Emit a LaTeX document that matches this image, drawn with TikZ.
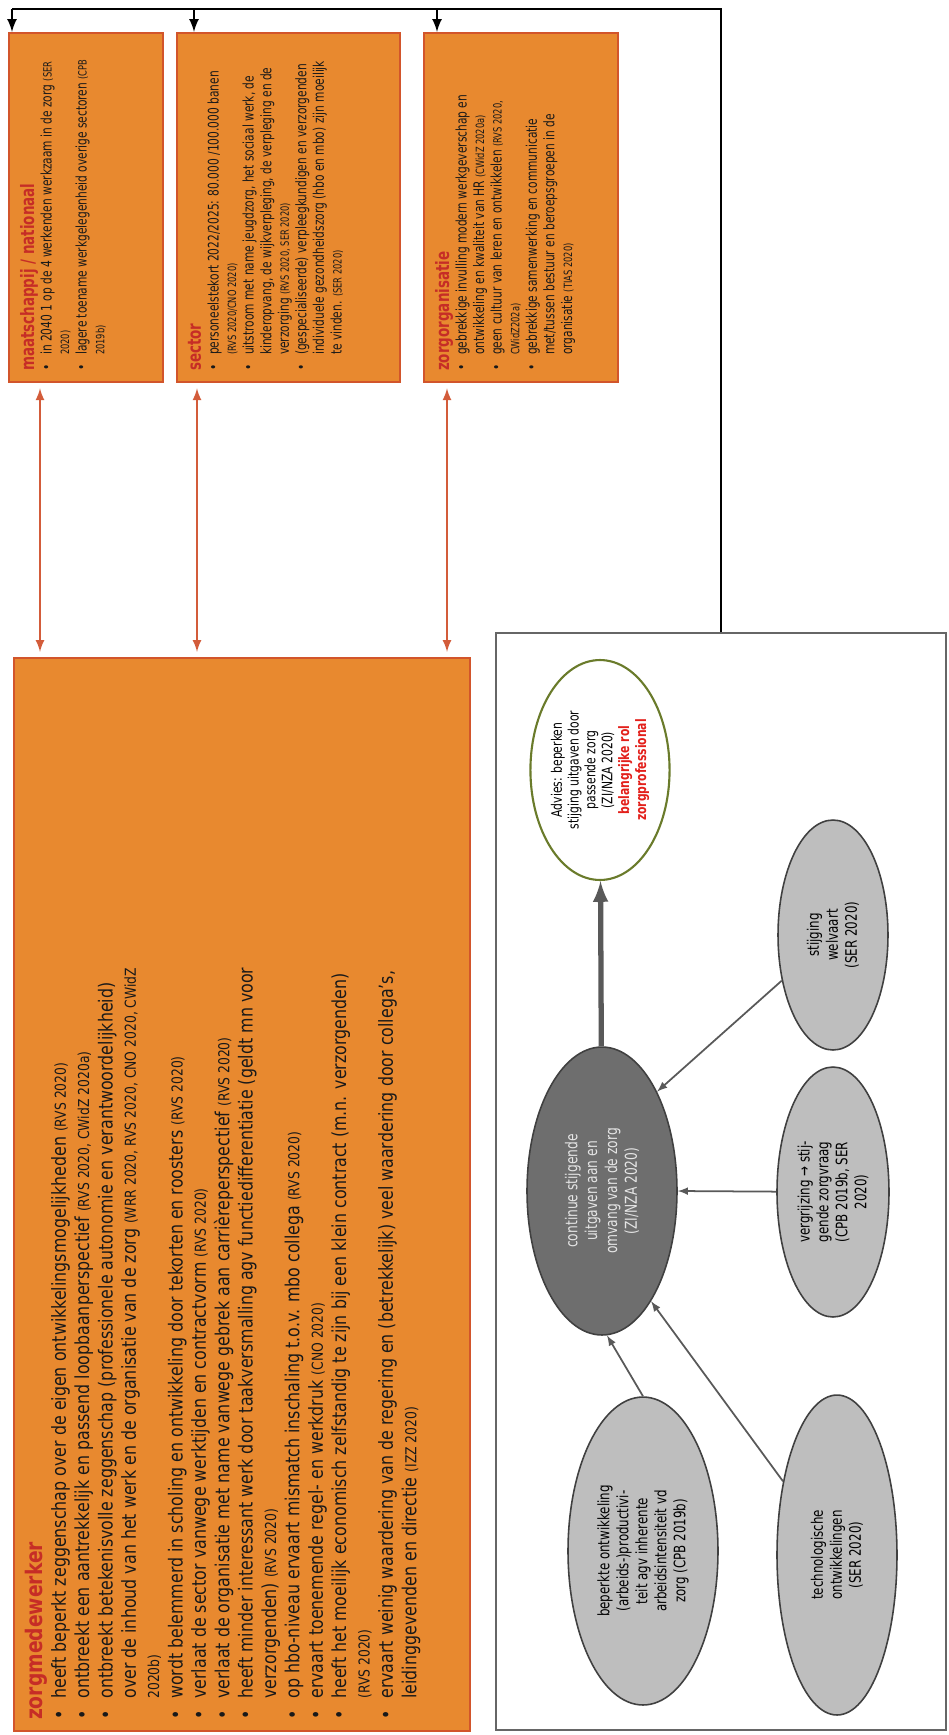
\documentclass[tikz,border=0pt]{standalone}
\usepackage{fontspec}
\setmainfont{DejaVu Sans}[FakeStretch=0.73]
\newfontfamily\smal{DejaVu Sans}[FakeStretch=0.75]
\newfontfamily\breed{DejaVu Sans}[FakeStretch=0.82]
\usetikzlibrary{arrows,shapes.geometric}
\definecolor{oranjevul}{HTML}{E8892F}
\definecolor{oranjerand}{HTML}{D2552B}
\definecolor{koprood}{HTML}{C62D26}
\definecolor{pijloranje}{HTML}{D35C3A}
\definecolor{donkergrijs}{HTML}{6E6E6E}
\definecolor{lichtgrijs}{HTML}{BEBEBE}
\definecolor{olijfgroen}{HTML}{6A7B2B}
\definecolor{tekstrood}{HTML}{E3201B}
\newcommand{\itm}{\makebox[1.1em][l]{\textbullet}}
\newcommand{\ind}{\hspace*{1.1em}}
\newcommand{\bron}[1]{\scalebox{0.78}{#1}}
\newcommand{\kop}[1]{{\fontsize{10.5}{12.5}\selectfont\bfseries\color{koprood}#1}}
\begin{document}
\begin{tikzpicture}[x=0.02cm,y=0.02cm]
	\tikzstyle{every node}+=[inner sep=0pt]
	\tikzstyle{vak}=[draw=oranjerand, line width=1.2pt, fill=oranjevul, rotate=90, inner sep=0.22cm, text=black!90]
	\tikzstyle{ovaal}=[ellipse, draw=black!75, line width=0.9pt, rotate=90, align=center, font=\smal\fontsize{9}{10.8}\selectfont]
	\tikzstyle{zwartpijl}=[draw=black, line width=1.5pt, -latex]
	\tikzstyle{oranjepijl}=[draw=pijloranje, line width=1.3pt, latex-latex, shorten <=3pt, shorten >=3pt]
	\tikzstyle{grijspijl}=[draw=black!65, line width=1pt, -latex]
	\useasboundingbox (0,0) rectangle (949,-1735);
	\node [vak] (m) at (86,-207.5) {\parbox[c][2.64cm][t]{6.54cm}{\fontsize{8.3}{10}\selectfont\raggedright
		\kop{maatschappij / nationaal}\\
		\itm in 2040 1 op de 4 werkenden werkzaam in de zorg \bron{(SER}\\
		\ind\bron{2020)}\\
		\itm lagere toename werkgelegenheid overige sectoren \bron{(CPB}\\
		\ind\bron{2019b)}}};
	\node [vak] (s) at (288.5,-207.5) {\parbox[c][4.02cm][t]{6.54cm}{\fontsize{8.3}{10}\selectfont\raggedright
		\kop{sector}\\
		\itm personeelstekort 2022/2025: 80.000 /100.000 banen\\
		\ind\bron{(RVS 2020/CNO 2020)}\\
		\itm uitstroom met name jeugdzorg, het sociaal werk, de\\
		\ind kinderopvang, de wijkverpleging, de verpleging en de\\
		\ind verzorging \bron{(RVS 2020, SER 2020)}\\
		\itm (gespecialiseerde) verpleegkundigen en verzorgenden\\
		\ind individuele gezondheidszorg (hbo en mbo) zijn moeilijk\\
		\ind te vinden. \bron{(SER 2020)}}};
	\node [vak] (o) at (521,-207.5) {\parbox[c][3.44cm][t]{6.54cm}{\fontsize{8.3}{10}\selectfont\raggedright
		\kop{zorgorganisatie}\\
		\itm gebrekkige invulling modern werkgeverschap en\\
		\ind ontwikkeling en kwaliteit van HR \bron{(CWidZ 2020a)}\\
		\itm geen cultuur van leren en ontwikkelen \bron{(RVS 2020,}\\
		\ind\bron{CWidZ202a)}\\
		\itm gebrekkige samenwerking en communicatie\\
		\ind met/tussen bestuur en beroepsgroepen in de\\
		\ind organisatie \bron{(TIAS 2020)}}};
	\node [vak] (z) at (242,-1194.5) {\parbox[c][8.68cm][t]{21.02cm}{\breed\fontsize{11}{13.3}\selectfont\raggedright
		{\fontsize{13}{15.5}\selectfont\bfseries\color{koprood}zorgmedewerker}\\
		\itm heeft beperkt zeggenschap over de eigen ontwikkelingsmogelijkheden \bron{(RVS 2020)}\\
		\itm ontbreekt een aantrekkelijk en passend loopbaanperspectief \bron{(RVS 2020, CWidZ 2020a)}\\
		\itm ontbreekt betekenisvolle zeggenschap (professionele autonomie en verantwoordelijkheid)\\
		\ind over de inhoud van het werk en de organisatie van de zorg \bron{(WRR 2020, RVS 2020, CNO 2020, CWidZ}\\
		\ind\bron{2020b)}\\
		\itm wordt belemmerd in scholing en ontwikkeling door tekorten en roosters \bron{(RVS 2020)}\\
		\itm verlaat de sector vanwege werktijden en contractvorm \bron{(RVS 2020)}\\
		\itm verlaat de organisatie met name vanwege gebrek aan carrièreperspectief \bron{(RVS 2020)}\\
		\itm heeft minder interessant werk door taakversmalling agv functiedifferentiatie (geldt mn voor\\
		\ind verzorgenden) \bron{(RVS 2020)}\\
		\itm op hbo-niveau ervaart mismatch inschaling t.o.v. mbo collega \bron{(RVS 2020)}\\
		\itm ervaart toenemende regel- en werkdruk \bron{(CNO 2020)}\\
		\itm heeft het moeilijk economisch zelfstandig te zijn bij een klein contract (m.n. verzorgenden)\\
		\ind\bron{(RVS 2020)}\\
		\itm ervaart weinig waardering van de regering en (betrekkelijk) veel waardering door collega’s,\\
		\ind leidinggevenden en directie \bron{(IZZ 2020)}}};
	\node [draw=black!60, line width=1.2pt, minimum width=9cm, minimum height=21.94cm] (k) at (721,-1181.5) {};
	\node [ovaal, draw=olijfgroen, line width=1.2pt, fill=white, minimum width=4.4cm, minimum height=2.68cm, font=\smal\fontsize{8.2}{9.6}\selectfont] (a) at (600,-770) {Advies: beperken\\stijging uitgaven door\\passende zorg\\(ZI/NZA 2020)\\\textbf{\color{tekstrood}belangrijke rol}\\\textbf{\color{tekstrood}zorgprofessional}};
	\node [ovaal, fill=donkergrijs, text=white!90!black, minimum width=5.76cm, minimum height=3cm, font=\smal\fontsize{9.3}{11.3}\selectfont] (c) at (602,-1191) {continue stijgende\\uitgaven aan en\\omvang van de zorg\\(ZI/NZA 2020)};
	\node [ovaal, fill=lichtgrijs, minimum width=4.6cm, minimum height=2.2cm] (w) at (833,-935) {stijging\\welvaart\\(SER 2020)};
	\node [ovaal, fill=lichtgrijs, minimum width=5cm, minimum height=2.24cm] (v) at (833,-1192) {vergrijzing → stij-\\gende zorgvraag\\(CPB 2019b, SER\\2020)};
	\node [ovaal, fill=lichtgrijs, minimum width=6.4cm, minimum height=2.4cm] (t) at (837,-1555) {technologische\\ontwikkelingen\\(SER 2020)};
	\node [ovaal, fill=lichtgrijs, minimum width=6.16cm, minimum height=3cm] (p) at (643,-1551) {beperkte ontwikkeling\\(arbeids-)productivi-\\teit agv inherente\\arbeidsintensiteit vd\\zorg (CPB 2019b)};
	\coordinate (h0) at (12,-9);
	\coordinate (h1) at (194,-9);
	\coordinate (h2) at (437,-9);
	\draw [draw=black, line width=1.5pt] (k.north) |- (h0);
	\draw [zwartpijl] (h0) -- (h0 |- m.east);
	\draw [zwartpijl] (h1) -- (h1 |- s.east);
	\draw [zwartpijl] (h2) -- (h2 |- o.east);
	\coordinate (r0) at (40,0);
	\coordinate (r1) at (197,0);
	\coordinate (r2) at (447,0);
	\draw [oranjepijl] (r0 |- m.west) -- (r0 |- z.east);
	\draw [oranjepijl] (r1 |- s.west) -- (r1 |- z.east);
	\draw [oranjepijl] (r2 |- o.west) -- (r2 |- z.east);
	\draw [grijspijl, line width=3pt] (c) -- (a);
	\draw [grijspijl] (w) -- (c.331);
	\draw [grijspijl] (v) -- (c.south);
	\draw [grijspijl] (t) -- (c.204);
	\draw [grijspijl] (p.east) -- (c.182);
\end{tikzpicture}
\end{document}
